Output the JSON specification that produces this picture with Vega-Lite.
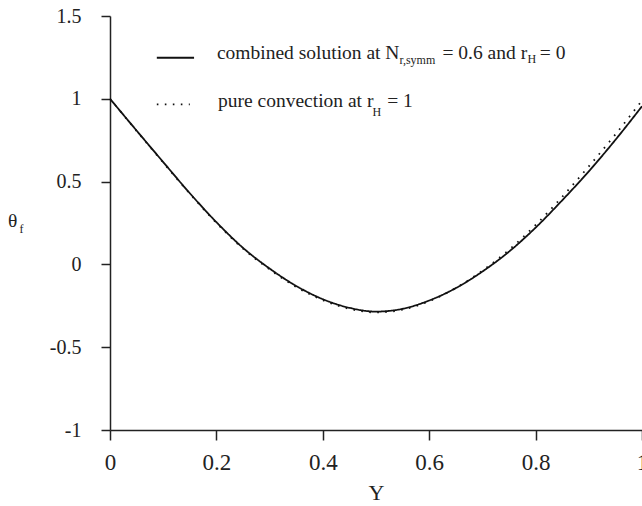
{
  "$schema": "https://vega.github.io/schema/vega-lite/v6.json",
  "width": 532,
  "height": 414,
  "autosize": {"type": "none"},
  "padding": {"left": 110, "top": 16, "right": 0, "bottom": 76},
  "background": "white",
  "config": {
    "view": {"stroke": null},
    "font": "Liberation Serif",
    "style": {"guide-label": {"font": "Liberation Serif"}, "guide-title": {"font": "Liberation Serif"}},
    "axis": {"grid": false, "domainColor": "#222", "domainWidth": 1.5, "tickColor": "#222", "tickWidth": 1.5, "labelColor": "#222", "titleColor": "#222", "labelFont": "Liberation Serif", "titleFont": "Liberation Serif", "titleFontWeight": "normal"}
  },
  "datasets": {
    "curves": [
      {"Y": 0.00, "theta": 1.000, "series": "combined"},
      {"Y": 0.05, "theta": 0.808, "series": "combined"},
      {"Y": 0.10, "theta": 0.618, "series": "combined"},
      {"Y": 0.15, "theta": 0.430, "series": "combined"},
      {"Y": 0.20, "theta": 0.255, "series": "combined"},
      {"Y": 0.25, "theta": 0.100, "series": "combined"},
      {"Y": 0.30, "theta": -0.025, "series": "combined"},
      {"Y": 0.35, "theta": -0.130, "series": "combined"},
      {"Y": 0.40, "theta": -0.210, "series": "combined"},
      {"Y": 0.45, "theta": -0.262, "series": "combined"},
      {"Y": 0.50, "theta": -0.285, "series": "combined"},
      {"Y": 0.55, "theta": -0.268, "series": "combined"},
      {"Y": 0.60, "theta": -0.218, "series": "combined"},
      {"Y": 0.65, "theta": -0.143, "series": "combined"},
      {"Y": 0.70, "theta": -0.043, "series": "combined"},
      {"Y": 0.75, "theta": 0.077, "series": "combined"},
      {"Y": 0.80, "theta": 0.222, "series": "combined"},
      {"Y": 0.85, "theta": 0.387, "series": "combined"},
      {"Y": 0.90, "theta": 0.562, "series": "combined"},
      {"Y": 0.95, "theta": 0.752, "series": "combined"},
      {"Y": 1.00, "theta": 0.955, "series": "combined"},
      {"Y": 0.00, "theta": 1.000, "series": "pure"},
      {"Y": 0.05, "theta": 0.806, "series": "pure"},
      {"Y": 0.10, "theta": 0.615, "series": "pure"},
      {"Y": 0.15, "theta": 0.427, "series": "pure"},
      {"Y": 0.20, "theta": 0.251, "series": "pure"},
      {"Y": 0.25, "theta": 0.095, "series": "pure"},
      {"Y": 0.30, "theta": -0.030, "series": "pure"},
      {"Y": 0.35, "theta": -0.136, "series": "pure"},
      {"Y": 0.40, "theta": -0.216, "series": "pure"},
      {"Y": 0.45, "theta": -0.268, "series": "pure"},
      {"Y": 0.50, "theta": -0.290, "series": "pure"},
      {"Y": 0.55, "theta": -0.273, "series": "pure"},
      {"Y": 0.60, "theta": -0.222, "series": "pure"},
      {"Y": 0.65, "theta": -0.143, "series": "pure"},
      {"Y": 0.70, "theta": -0.038, "series": "pure"},
      {"Y": 0.75, "theta": 0.088, "series": "pure"},
      {"Y": 0.80, "theta": 0.238, "series": "pure"},
      {"Y": 0.85, "theta": 0.408, "series": "pure"},
      {"Y": 0.90, "theta": 0.592, "series": "pure"},
      {"Y": 0.95, "theta": 0.785, "series": "pure"},
      {"Y": 1.00, "theta": 0.990, "series": "pure"}
    ],
    "legendLines": [
      {"Y": 0.088, "theta": 1.248, "series": "combined"},
      {"Y": 0.158, "theta": 1.248, "series": "combined"},
      {"Y": 0.088, "theta": 0.966, "series": "pure"},
      {"Y": 0.150, "theta": 0.966, "series": "pure"}
    ],
    "mainText": [
      {"Y": 0.201, "theta": 1.240, "text": "combined solution at N"},
      {"Y": 0.625, "theta": 1.240, "text": "= 0.6 and r"},
      {"Y": 0.808, "theta": 1.240, "text": "= 0"},
      {"Y": 0.203, "theta": 0.952, "text": "pure convection at r"},
      {"Y": 0.521, "theta": 0.952, "text": "= 1"},
      {"Y": -0.1917, "theta": 0.228, "text": "θ"}
    ],
    "subText": [
      {"Y": 0.544, "theta": 1.212, "text": "r,symm"},
      {"Y": 0.785, "theta": 1.215, "text": "H"},
      {"Y": 0.4935, "theta": 0.897, "text": "H"},
      {"Y": -0.170, "theta": 0.190, "text": "f"}
    ]
  },
  "encoding": {
    "x": {"field": "Y", "type": "quantitative", "scale": {"domain": [0, 1], "nice": false, "zero": false},
      "axis": {"values": [0, 0.2, 0.4, 0.6, 0.8, 1], "title": "Y", "titleFont": "Liberation Serif", "labelFont": "Liberation Serif", "titleFontSize": 22, "titlePadding": 8, "labelFontSize": 23, "tickSize": 10, "labelPadding": 11, "labelExpr": "toString(datum.value)", "labelFlush": false, "labelOverlap": false}},
    "y": {"field": "theta", "type": "quantitative", "scale": {"domain": [-1, 1.5], "nice": false, "zero": false},
      "axis": {"values": [-1, -0.5, 0, 0.5, 1, 1.5], "title": null, "labelFont": "Liberation Serif", "labelFontSize": 20, "tickSize": 9, "labelPadding": 20, "labelExpr": "toString(datum.value)", "labelFlush": false, "labelOverlap": false}}
  },
  "layer": [
    {
      "mark": {"type": "rule", "color": "#222", "strokeWidth": 1.5},
      "encoding": {"y": {"datum": 1.5}, "x": null}
    },
    {
      "data": {"name": "curves"},
      "mark": {"type": "line", "color": "#111", "strokeWidth": 1.8, "interpolate": "monotone"},
      "encoding": {
        "detail": {"field": "series"},
        "strokeDash": {"field": "series", "type": "nominal", "scale": {"domain": ["combined", "pure"], "range": [[1, 0], [1.6, 6.4]]}, "legend": null}
      }
    },
    {
      "data": {"name": "legendLines"},
      "mark": {"type": "line", "color": "#111", "strokeWidth": 1.8},
      "encoding": {
        "detail": {"field": "series"},
        "strokeDash": {"field": "series", "type": "nominal", "scale": {"domain": ["combined", "pure"], "range": [[1, 0], [1.6, 6.4]]}, "legend": null}
      }
    },
    {
      "data": {"name": "mainText"},
      "mark": {"type": "text", "align": "left", "baseline": "alphabetic", "fontSize": 19.5, "font": "Liberation Serif", "color": "#222"},
      "encoding": {"text": {"field": "text"}}
    },
    {
      "data": {"name": "subText"},
      "mark": {"type": "text", "align": "left", "baseline": "alphabetic", "fontSize": 12, "font": "Liberation Serif", "color": "#222"},
      "encoding": {"text": {"field": "text"}}
    }
  ]
}
